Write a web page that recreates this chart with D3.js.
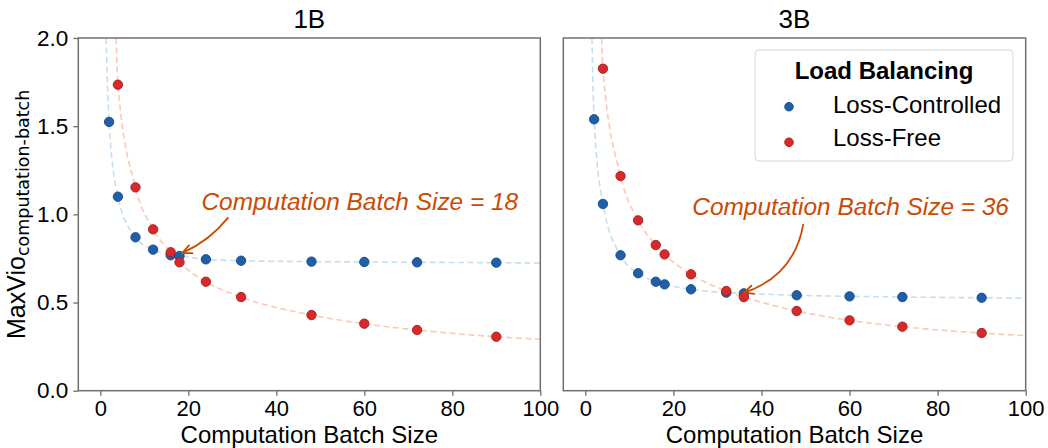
<!DOCTYPE html>
<html><head><meta charset="utf-8">
<script src="https://cdn.jsdelivr.net/npm/d3@7"></script>
<style>
body{margin:0;background:#fff}
text{font-family:"Liberation Sans",Arial,sans-serif}
</style>
</head><body>
<svg id="c" width="1048" height="448"></svg>
<script>
// ---------------- data ----------------
const panelTitles = ["1B", "3B"];
const xTicks = [0, 20, 40, 60, 80, 100];
const yTicks = [0.0, 0.5, 1.0, 1.5, 2.0];
const seriesNames = ["Loss-Controlled", "Loss-Free"];
const legendTitle = "Load Balancing";

const x1B_LC = [2, 4, 8, 12, 16, 18, 24, 32, 48, 60, 72, 90];
const y1B_LC = [1.524, 1.100, 0.870, 0.800, 0.768, 0.764, 0.745, 0.737, 0.732, 0.730, 0.728, 0.726];
const x1B_LF = [4, 8, 12, 16, 18, 24, 32, 48, 60, 72, 90];
const y1B_LF = [1.735, 1.153, 0.915, 0.785, 0.728, 0.618, 0.531, 0.429, 0.380, 0.344, 0.306];

const x3B_LC = [2, 4, 8, 12, 16, 18, 24, 32, 36, 48, 60, 72, 90];
const y3B_LC = [1.539, 1.059, 0.768, 0.666, 0.618, 0.603, 0.575, 0.556, 0.552, 0.541, 0.535, 0.531, 0.527];
const x3B_LF = [4, 8, 12, 16, 18, 24, 32, 36, 48, 60, 72, 90];
const y3B_LF = [1.826, 1.217, 0.966, 0.826, 0.773, 0.660, 0.565, 0.531, 0.452, 0.399, 0.363, 0.327];

// dashed fit curves: where they leave the top (x at y=2) and their value at x=100
const fitStart1B = [1.3, 3.6];   // LC, LF
const fitEnd1B   = [0.724, 0.291];
const fitStart3B = [1.5, 3.7];
const fitEnd3B   = [0.524, 0.312];

const annoText = ["Computation Batch Size = 18", "Computation Batch Size = 36"];
const annoTextPos = [[23.0, 1.025], [24.3, 0.996]];
const annoFrom = [[29.1, 0.983], [49.5, 0.945]];
const annoTo = [[18.6, 0.78], [36.0, 0.556]];
const annoRad = [0.12, 0.3];

// ---------------- styles ----------------
const plotTop = 38, plotBottom = 390.7;
const panelsX = [[78.3, 540.3], [563.3, 1025.7]];
const dotFill = ["#1f5fa8", "#d8282a"];
const dotStroke = ["#174a87", "#a61e20"];
const lineColor = ["#c5def0", "#fcc8b8"];
const spineColor = "#707070";
const annoColor = "#cc4a02";

const svg = d3.select("#c");
const panels = [
  {title: panelTitles[0], lc: [x1B_LC, y1B_LC], lf: [x1B_LF, y1B_LF], fs: fitStart1B, fe: fitEnd1B},
  {title: panelTitles[1], lc: [x3B_LC, y3B_LC], lf: [x3B_LF, y3B_LF], fs: fitStart3B, fe: fitEnd3B}
];

const y = d3.scaleLinear([0, 2], [plotBottom, plotTop]);

panels.forEach((p, pi) => {
  const [x0, x1] = panelsX[pi];
  const x = d3.scaleLinear([-5, 100], [x0, x1]);
  const g = svg.append("g");

  const clipId = "clip" + pi;
  svg.append("clipPath").attr("id", clipId).append("rect")
    .attr("x", x0).attr("y", plotTop).attr("width", x1 - x0).attr("height", plotBottom - plotTop);

  // x axis
  const xa = g.append("g").attr("transform", `translate(0,${plotBottom})`)
    .call(d3.axisBottom(x).tickValues(xTicks).tickSize(5).tickSizeOuter(0).tickPadding(5).tickFormat(d3.format("d")));
  xa.select(".domain").remove();
  xa.selectAll("line").attr("stroke", spineColor).attr("stroke-width", 1.3);
  xa.selectAll("text").attr("font-size", 22).attr("fill", "#000")
    .attr("font-family", "'Liberation Sans',Arial,sans-serif");

  if (pi === 0) {
    const ya = g.append("g").attr("transform", `translate(${x0},0)`)
      .call(d3.axisLeft(y).tickValues(yTicks).tickSize(5).tickSizeOuter(0).tickPadding(5).tickFormat(d3.format(".1f")));
    ya.select(".domain").remove();
    ya.selectAll("line").attr("stroke", spineColor).attr("stroke-width", 1.3);
    ya.selectAll("text").attr("font-size", 22.5).attr("fill", "#000")
      .attr("font-family", "'Liberation Sans',Arial,sans-serif");
  }

  // curves
  const line = d3.line().x(d => x(d[0])).y(d => y(d[1])).curve(d3.curveMonotoneX);
  [p.lc, p.lf].forEach((s, si) => {
    const pts = [[p.fs[si], 2.0]].concat(s[0].map((v, i) => [v, s[1][i]])).concat([[100, p.fe[si]]]);
    g.append("path").attr("d", line(pts)).attr("fill", "none")
      .attr("stroke", lineColor[si]).attr("stroke-width", 1.6)
      .attr("stroke-dasharray", "6,3.5").attr("clip-path", `url(#${clipId})`);
  });

  // dots
  [p.lc, p.lf].forEach((s, si) => {
    g.append("g").selectAll("circle").data(s[0].map((v, i) => [v, s[1][i]])).join("circle")
      .attr("cx", d => x(d[0])).attr("cy", d => y(d[1])).attr("r", 4.7)
      .attr("fill", dotFill[si]).attr("stroke", dotStroke[si]).attr("stroke-width", 0.9);
  });

  // frame
  g.append("rect").attr("x", x0).attr("y", plotTop).attr("width", x1 - x0).attr("height", plotBottom - plotTop)
    .attr("fill", "none").attr("stroke", spineColor).attr("stroke-width", 1.5);

  // title
  g.append("text").attr("x", (x0 + x1) / 2).attr("y", 28).attr("text-anchor", "middle")
    .attr("font-size", 26).text(p.title);

  // x label
  g.append("text").attr("x", (x0 + x1) / 2).attr("y", 443).attr("text-anchor", "middle")
    .attr("font-size", 24).text("Computation Batch Size");

  // annotation
  g.append("text").attr("x", x(annoTextPos[pi][0])).attr("y", y(annoTextPos[pi][1]))
    .attr("font-size", 24.4).attr("font-style", "italic").attr("fill", annoColor).text(annoText[pi]);
  const sx = x(annoFrom[pi][0]), sy = y(annoFrom[pi][1]);
  const ex = x(annoTo[pi][0]), ey = y(annoTo[pi][1]);
  const dx = ex - sx, dy = ey - sy;
  const r = annoRad[pi];
  const cx = (sx + ex) / 2 + r * dy, cy = (sy + ey) / 2 - r * dx;
  g.append("path").attr("d", `M${sx},${sy}Q${cx},${cy} ${ex},${ey}`)
    .attr("fill", "none").attr("stroke", annoColor).attr("stroke-width", 1.8);
  const ang = Math.atan2(ey - cy, ex - cx), hl = 11, ha = 0.42;
  g.append("path").attr("d",
      `M${ex - hl * Math.cos(ang - ha)},${ey - hl * Math.sin(ang - ha)}L${ex},${ey}L${ex - hl * Math.cos(ang + ha)},${ey - hl * Math.sin(ang + ha)}`)
    .attr("fill", "none").attr("stroke", annoColor).attr("stroke-width", 1.8);
});

// y label
const yl = svg.append("text").attr("transform", `translate(25,${(plotTop + plotBottom) / 2}) rotate(-90)`)
  .attr("text-anchor", "middle");
yl.append("tspan").attr("font-size", 25).text("MaxVio");
yl.append("tspan").attr("font-size", 17.5).attr("font-family", "'DejaVu Sans',sans-serif")
  .attr("dy", 4).text("computation-batch");

// legend
const lg = svg.append("g");
lg.append("rect").attr("x", 755).attr("y", 50).attr("width", 258).attr("height", 111).attr("rx", 4)
  .attr("fill", "#fff").attr("fill-opacity", 0.85).attr("stroke", "#d6d6d6").attr("stroke-width", 1);
lg.append("text").attr("x", 884).attr("y", 78.5).attr("text-anchor", "middle")
  .attr("font-size", 24).attr("font-weight", "bold").text(legendTitle);
const legY = [106.7, 142.3], legTextY = [113.3, 146.3];
seriesNames.forEach((n, i) => {
  lg.append("circle").attr("cx", 789).attr("cy", legY[i]).attr("r", 4.3)
    .attr("fill", dotFill[i]).attr("stroke", dotStroke[i]).attr("stroke-width", 0.9);
  lg.append("text").attr("x", 833).attr("y", legTextY[i]).attr("font-size", 24).text(n);
});
</script>
</body></html>
